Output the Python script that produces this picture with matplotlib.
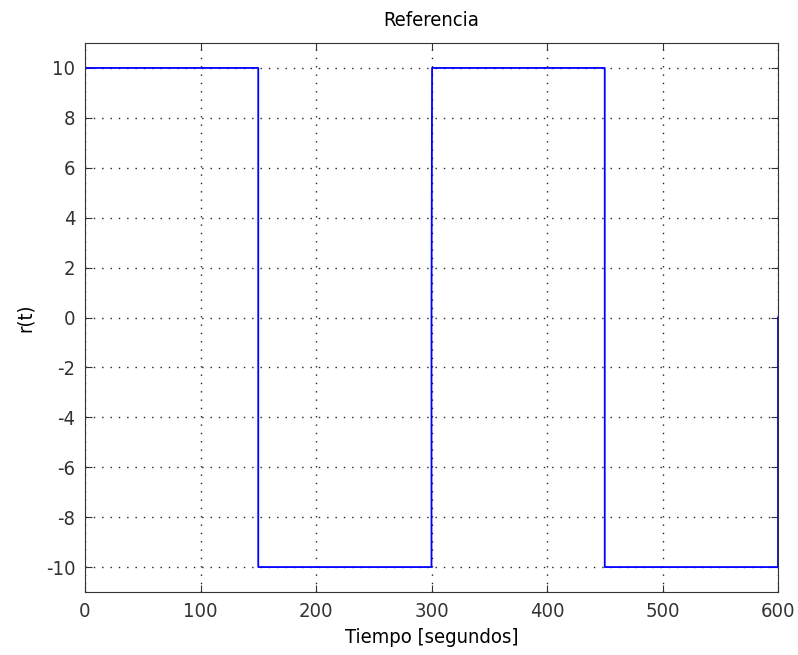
import matplotlib
matplotlib.use("Agg")
import matplotlib.pyplot as plt

# Data: square reference signal
t = [0, 150, 150, 300, 300, 300.5, 450, 450, 600, 600]
r = [10, 10, -10, -10, 0, 10, 10, -10, -10, 0]

xticks = [0, 100, 200, 300, 400, 500, 600]
yticks = [-10, -8, -6, -4, -2, 0, 2, 4, 6, 8, 10]

plt.rcParams['font.family'] = ['DejaVu Sans']
plt.rcParams['font.stretch'] = 'condensed'
plt.rcParams['axes.unicode_minus'] = False
fig = plt.figure(figsize=(7.98, 6.55), dpi=100)
ax = fig.add_axes([85/798, 1-592/655, (778-85)/798, (592-43)/655])
ax.plot(t, r, color=(0, 0, 1), linewidth=1.3)
ax.set_xlim(0, 600)
ax.set_ylim(-11, 11)
ax.set_xticks(xticks)
ax.set_yticks(yticks)
ax.grid(True, linestyle=(0, (1, 5)), color='#222222', linewidth=1.0)
ax.tick_params(direction='in', top=True, right=True, length=5, labelsize=14.5, colors='#333333', pad=7)
for s in ax.spines.values():
    s.set_color('#333333')
ax.set_title('Referencia', fontsize=14.5, pad=12)
ax.set_xlabel('Tiempo [segundos]', fontsize=14.5, labelpad=5)
ax.set_ylabel('r(t)', fontsize=14.5, labelpad=8)
fig.savefig('out.png', dpi=100)
